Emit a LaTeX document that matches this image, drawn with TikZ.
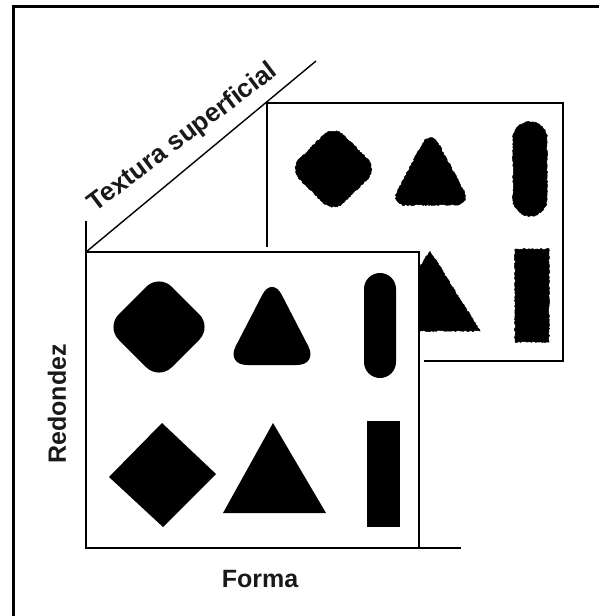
\documentclass[tikz,border=0pt]{standalone}
\usepackage{fontspec}
\setmainfont{Liberation Sans}
\usetikzlibrary{decorations.pathmorphing}

\begin{document}
\begin{tikzpicture}[x=1pt, y=-1pt,
  marco/.style={line width=2.2pt},
  eje/.style={line width=1.4pt},
  lisa/.style={fill=black},
  rugosa/.style={fill=black, draw=black, line width=0.5pt, decorate,
                 decoration={random steps, segment length=1.5pt, amplitude=0.7pt}},
  etiq/.style={font=\fontsize{25}{30}\selectfont\bfseries, text=black!90},
]
\pgfmathsetseed{11}
\useasboundingbox (0,0) rectangle (599,616);

% Marco exterior (solo arriba e izquierda)
\draw[marco] (13.5,616) -- (13.5,6.5) -- (599,6.5);

% Puntos de los ejes
\coordinate (origen) at (86,548);
\coordinate (ejey)   at (86,221);
\coordinate (ejex)   at (461,548);
\coordinate (esq)    at (86,252);
\coordinate (ejez)   at (316,61);

% Plano trasero: superficie rugosa
\draw[eje] (267,247) -- (267,103) -- (563,103) -- (563,361) -- (424,361);
\path[rugosa] (344.1,135.6) -- (366.9,158.4) .. controls (372.7,164.2) and (372.7,173.8) .. (366.9,179.6)
  -- (344.1,202.4) .. controls (338.3,208.2) and (328.7,208.2) .. (322.9,202.4)
  -- (300.1,179.6) .. controls (294.3,173.8) and (294.3,164.2) .. (300.1,158.4)
  -- (322.9,135.6) .. controls (328.7,129.8) and (338.3,129.8) .. (344.1,135.6) -- cycle;
\path[rugosa] (406.7,205) -- (454.3,205) .. controls (464,205) and (467.7,198.5) .. (463.3,190)
  -- (438.5,144) .. controls (434,135.6) and (427,135.6) .. (422.5,144)
  -- (397.7,190) .. controls (393.3,198.5) and (397,205) .. (406.7,205) -- cycle;
\path[rugosa] (513,139) -- (513,199) .. controls (513,208.4) and (520.6,216) .. (530,216)
  .. controls (539.4,216) and (547,208.4) .. (547,199) -- (547,139)
  .. controls (547,129.6) and (539.4,122) .. (530,122)
  .. controls (520.6,122) and (513,129.6) .. (513,139) -- cycle;
\path[rugosa] (379,331) -- (480,331) -- (430,251) -- cycle;
\path[rugosa] (515,249) rectangle (549,342);

% Plano delantero: superficie lisa
\fill[white] (esq) rectangle (419,548);
\draw[eje] (esq) -- (419,252) -- (419,548);
\path[lisa, rounded corners=18] (159,274) -- (212,327) -- (159,380) -- (106,327) -- cycle;
\path[lisa, rounded corners=21] (226,365) -- (318,365) -- (272,276) -- cycle;
\path[lisa, rounded corners=16] (364,273) rectangle (396,378);
\path[lisa] (162,423) -- (216,474) -- (163,527) -- (109,477) -- cycle;
\path[lisa] (223,513) -- (326,513) -- (273,423) -- cycle;
\path[lisa] (367,421) rectangle (400,527);

% Ejes
\draw[eje] (ejey) -- (origen) -- (ejex);
\draw[eje] (esq) -- (ejez);

% Rotulos
\node[etiq] (forma) at (260,579) {Forma};
\node[etiq, rotate=90] (redondez) at (57,404) {Redondez};
\node[etiq, font=\fontsize{26}{30}\selectfont\bfseries, rotate=37] (textura) at (183,138) {Textura superficial};

\end{tikzpicture}
\end{document}
